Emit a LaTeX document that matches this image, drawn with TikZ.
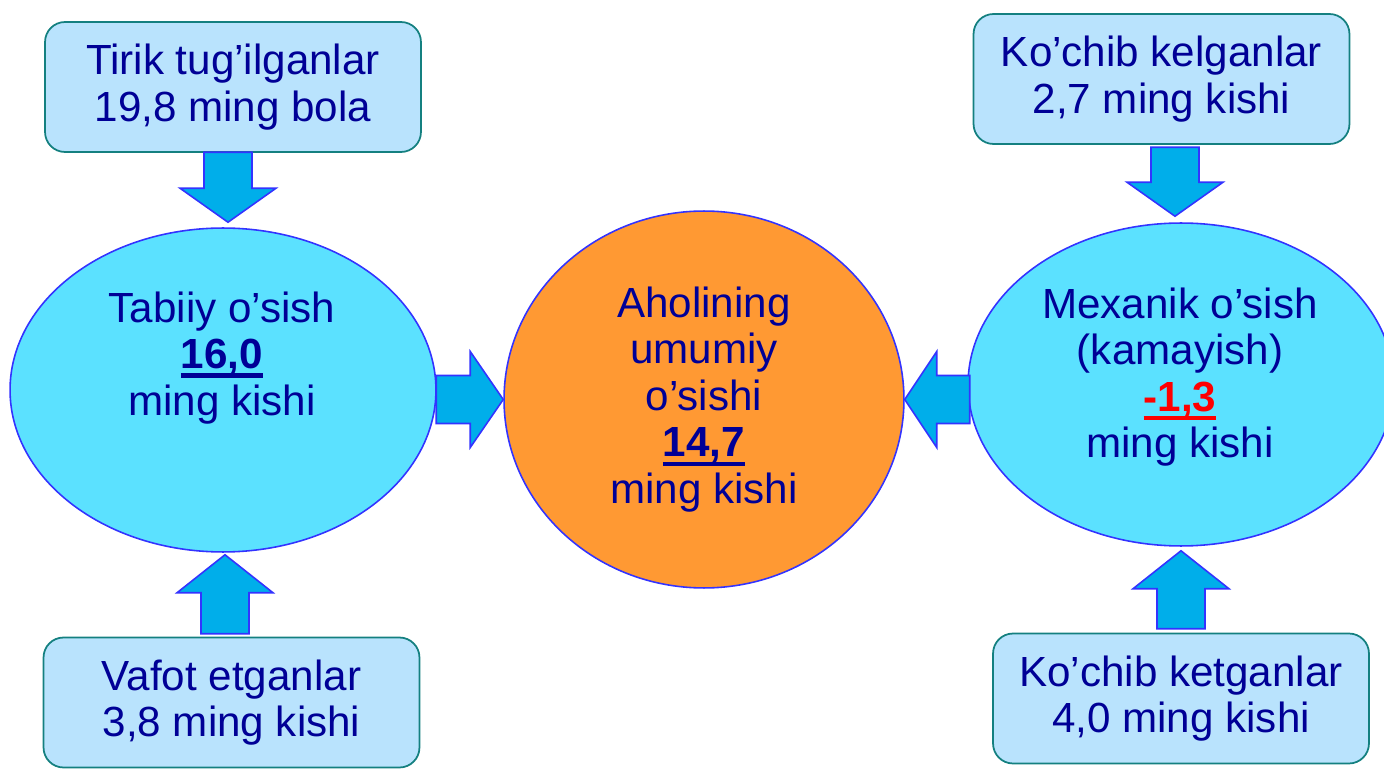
\documentclass[tikz,border=0pt]{standalone}
\usepackage{fontspec}
\setmainfont{Liberation Sans}
\usepackage{xcolor}
\usetikzlibrary{calc,shapes}
\definecolor{boxfill}{RGB}{185,227,253}
\definecolor{boxline}{RGB}{20,128,128}
\definecolor{ovalfill}{RGB}{91,225,255}
\definecolor{blueline}{RGB}{51,51,255}
\definecolor{arrowfill}{RGB}{0,174,234}
\definecolor{orangefill}{RGB}{255,153,51}
\definecolor{txtblue}{RGB}{0,0,150}
\newcommand{\numul}[1]{\setbox0\hbox{#1}\rlap{\rule[-5.2pt]{\wd0}{2.6pt}}\box0}

\begin{document}
\begin{tikzpicture}[x=0.02cm, y=-0.02cm,
  box/.style={rectangle, rounded corners=0.4cm, draw=boxline, line width=1pt, fill=boxfill, minimum width=7.52cm, minimum height=2.6cm, inner sep=0pt},
  oval/.style={ellipse, draw=blueline, line width=0.9pt, fill=ovalfill, inner sep=0pt, minimum width=8.52cm, minimum height=6.48cm},
  txt/.style={text=txtblue, align=center, font=\fontsize{24}{26.5}\selectfont},
  pics/fatarrow/.style 2 args={code={
    \draw[fill=arrowfill, draw=blueline, line width=0.9pt] (0,0) -- (-#2,-48) -- (-#2,-24) -- (-#1,-24) -- (-#1,24) -- (-#2,24) -- (-#2,48) -- cycle;}}]
\useasboundingbox (0,0) rectangle (1384,770);
\clip (0,0) rectangle (1384,770);
% boxes
\node[box, txt] (born) at (233,87) {Tirik tug’ilganlar\\19,8 ming bola};
\node[box, txt] (died) at (231.5,702.5) {Vafot etganlar\\3,8 ming kishi};
\node[box, txt] (arrived) at (1161.5,79) {Ko’chib kelganlar\\2,7 ming kishi};
\node[box, txt] (departed) at (1181,698.5) {Ko’chib ketganlar\\4,0 ming kishi};
% growth
\node[oval] (natural) at (223,390) {};
\node[txt] (naturaltext) at (222,358) {Tabiiy o’sish\\\numul{\textbf{16,0}}\\ming kishi};
\node[oval, minimum height=6.46cm] (mech) at (1181,384.5) {};
\node[txt] (mechtext) at (1180,377) {Mexanik o’sish\\(kamayish)\\{\color{red}\numul{\textbf{-1,3}}}\\ming kishi};
\node[oval, fill=orangefill, minimum width=8cm, minimum height=7.54cm, txt] (total) at (704,399.5) {Aholining\\umumiy\\o’sishi\\\numul{\textbf{14,7}}\\ming kishi};
% arrows
\pic[rotate=-90] at ($(natural.north)+(5,-5)$) {fatarrow={70}{34}};
\pic[rotate=90] at ($(natural.south)+(2,2)$) {fatarrow={79}{38}};
\pic[rotate=-90] at ($(mech.north)+(-6,-6)$) {fatarrow={69}{34}};
\pic[rotate=90] at ($(mech.south)+(0,4)$) {fatarrow={78}{38}};
\pic at (total.west) {fatarrow={67}{33}};
\pic[rotate=180] at (total.east) {fatarrow={65}{32}};
\end{tikzpicture}
\end{document}
